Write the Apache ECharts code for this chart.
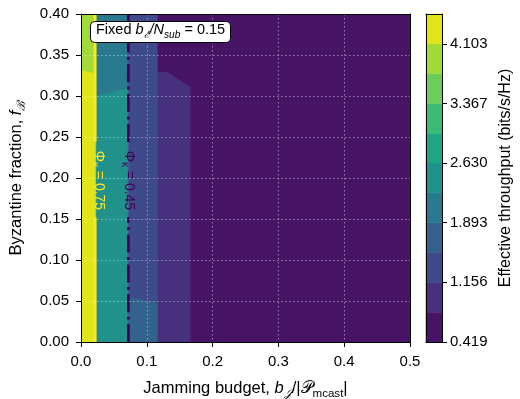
<!DOCTYPE html>
<html>
<head>
<meta charset="utf-8">
<script src="https://cdn.jsdelivr.net/npm/echarts@6/dist/echarts.min.js"></script>
<style>
    html, body { margin: 0; padding: 0; background: #fff; }
    #main { width: 520px; height: 399px; }
</style>
</head>
<body>
<div id="main"></div>
<script>
// filled contour levels of the throughput map (11 bands)
const bandLevels = [0.419, 0.787, 1.156, 1.524, 1.893, 2.261, 2.630, 2.998, 3.367, 3.735, 4.103, 4.471]
const bandTicks = [0.419, 1.156, 1.893, 2.630, 3.367, 4.103]

// throughput regions: value + outline in (jamming budget, byzantine fraction)
const regionValues = [4.30, 3.90, 2.45, 2.10, 1.35, 1.70, 0.95, 0.60, 0.60]
const regionShapes = [
    [[0, 0], [0.023, 0], [0.023, 0.4], [0, 0.4]],
    [[0, 0.332], [0.022, 0.328], [0.022, 0.4], [0, 0.4]],
    [[0.023, 0], [0.072, 0], [0.072, 0.4], [0.023, 0.4]],
    [[0.023, 0.300], [0.072, 0.310], [0.072, 0.4], [0.023, 0.4]],
    [[0.072, 0], [0.117, 0], [0.117, 0.4], [0.072, 0.4]],
    [[0.072, 0], [0.072, 0.055], [0.117, 0.047], [0.117, 0]],
    [[0.117, 0], [0.166, 0], [0.166, 0.4], [0.117, 0.4]],
    [[0.117, 0.330], [0.130, 0.330], [0.166, 0.312], [0.166, 0.4], [0.117, 0.4]],
    [[0.166, 0], [0.5, 0], [0.5, 0.4], [0.166, 0.4]]
]

// Phi_kappa contour lines (vertical), with the y-range left open for the inline label
const phiLabels = ['0.75', '0.45']
const phiX = [0.0215, 0.072]
const phiLabelX = [0.0275, 0.073]
const phiLabelY = [0.197, 0.197]
const phiGap = [0.152, 0.244]

const viridis = ['#471365', '#47307e', '#3e4a89', '#33638d', '#297a8e', '#21918c',
    '#21a685', '#3bbb75', '#6ccd5a', '#a2da37', '#e1e418']
const phiColors = ['#fde725', '#440154']
const phiDash = ['solid', [18, 4.5, 2.8, 4.5]]

const font = '"Liberation Sans", Arial, Helvetica, sans-serif'
const black = '#000'

function rich(size, color) {
    let base = { color: color, fontFamily: font, fontWeight: 'normal' }
    return {
        n: Object.assign({ fontSize: size, lineHeight: size + 6 }, base),
        i: Object.assign({ fontSize: size, lineHeight: size + 6, fontStyle: 'italic' }, base),
        s: Object.assign({ fontSize: size * 0.7, lineHeight: size * 0.7, fontStyle: 'italic', verticalAlign: 'bottom' }, base),
        r: Object.assign({ fontSize: size * 0.7, lineHeight: size * 0.7, verticalAlign: 'bottom' }, base),
        c: Object.assign({ fontSize: size, lineHeight: size + 6 }, base)
    }
}

const chart = echarts.init(document.getElementById('main'), null, { renderer: 'canvas' })

let series = []

series.push({
    type: 'custom',
    xAxisIndex: 0,
    yAxisIndex: 0,
    z: 1,
    clip: true,
    data: regionValues.map((v, i) => [v, i]),
    renderItem(params, api) {
        let pts = regionShapes[api.value(1)].map(p => api.coord(p))
        let c = api.visual('color')
        return {
            type: 'polygon',
            shape: { points: pts },
            style: { fill: c, stroke: c, lineWidth: 0.6 }
        }
    }
})

// colorbar bands
series.push({
    type: 'custom',
    xAxisIndex: 2,
    yAxisIndex: 2,
    z: 1,
    data: bandLevels.slice(0, -1).map((lo, i) => [(lo + bandLevels[i + 1]) / 2, lo, bandLevels[i + 1]]),
    renderItem(params, api) {
        let p0 = api.coord([0, api.value(1)])
        let p1 = api.coord([1, api.value(2)])
        let c = api.visual('color')
        return {
            type: 'rect',
            shape: { x: p0[0], y: p1[1], width: p1[0] - p0[0], height: p0[1] - p1[1] },
            style: { fill: c, stroke: c, lineWidth: 0.5 }
        }
    }
})

phiX.forEach((x, i) => {
    series.push({
        type: 'line',
        xAxisIndex: 0,
        yAxisIndex: 0,
        z: 3,
        symbol: 'none',
        silent: true,
        connectNulls: false,
        lineStyle: { color: phiColors[i], width: 2.8, type: phiDash[i], cap: 'butt' },
        data: [[x, 0], [x, phiGap[0]], [x, '-'], [x, phiGap[1]], [x, 0.4]]
    })
})

series.push({
    type: 'custom',
    xAxisIndex: 0,
    yAxisIndex: 0,
    z: 4,
    data: phiLabels.map((t, i) => [phiLabelX[i], phiLabelY[i], i]),
    renderItem(params, api) {
        let i = api.value(2)
        let p = api.coord([api.value(0), api.value(1)])
        let c = phiColors[i]
        return {
            type: 'text',
            x: p[0],
            y: p[1],
            rotation: -Math.PI / 2,
            style: {
                text: '{n|Φ}{r|κ}{n| = ' + phiLabels[i] + '}',
                rich: {
                    n: { fontSize: 14, fill: c, fontFamily: font, lineHeight: 18 },
                    r: { fontSize: 10, fill: c, fontFamily: font, lineHeight: 10, verticalAlign: 'bottom' }
                },
                fill: c,
                align: 'center',
                verticalAlign: 'middle'
            }
        }
    }
})

const frameAxis = {
    type: 'value',
    z: 5,
    axisLine: { show: true, onZero: false, lineStyle: { color: black, width: 1 } },
    axisTick: { show: false },
    axisLabel: { show: false },
    splitLine: { show: false }
}
const gridLine = {
    show: true,
    showMinLine: false,
    showMaxLine: false,
    lineStyle: { color: 'rgba(255,255,255,0.45)', width: 1, type: [1.5, 2.5] }
}

const option = {
    animation: false,
    textStyle: { fontFamily: font },
    title: {
        text: '{n|Fixed }{i|b}{s|ℰ}{i|/N}{s|sub}{n| = 0.15}',
        left: 90,
        top: 18,
        padding: [2, 6, 2, 6],
        backgroundColor: '#fff',
        borderColor: black,
        borderWidth: 1,
        borderRadius: 4,
        textStyle: { fontWeight: 'normal', rich: rich(14.5, black) },
        z: 10
    },
    grid: [
        { left: 81, top: 14, width: 329, height: 328, outerBoundsMode: 'none', containLabel: false },
        { left: 426, top: 14, width: 16, height: 328, outerBoundsMode: 'none', containLabel: false }
    ],
    visualMap: {
        type: 'piecewise',
        show: false,
        dimension: 0,
        seriesIndex: [0, 1],
        pieces: viridis.map((c, i) => ({ gte: bandLevels[i], lt: bandLevels[i + 1], color: c }))
    },
    xAxis: [
        {
            gridIndex: 0,
            type: 'value',
            min: 0,
            max: 0.5,
            interval: 0.1,
            position: 'bottom',
            z: 5,
            axisLine: { onZero: false, lineStyle: { color: black, width: 1 } },
            axisTick: { length: 5, lineStyle: { color: black } },
            axisLabel: { fontSize: 15, color: black, margin: 12, formatter: v => v.toFixed(1) },
            splitLine: gridLine,
            name: '{n|Jamming budget, }{i|b}{s|𝒥}{n|/|}{c|𝒫}{r|mcast}{n||}',
            nameLocation: 'middle',
            nameGap: 35,
            nameTextStyle: { rich: rich(16.5, black) }
        },
        Object.assign({ gridIndex: 0, min: 0, max: 0.5, position: 'top' }, frameAxis),
        Object.assign({ gridIndex: 1, min: 0, max: 1, position: 'bottom' }, frameAxis),
        Object.assign({ gridIndex: 1, min: 0, max: 1, position: 'top' }, frameAxis)
    ],
    yAxis: [
        {
            gridIndex: 0,
            type: 'value',
            min: 0,
            max: 0.4,
            interval: 0.05,
            position: 'left',
            z: 5,
            axisLine: { onZero: false, lineStyle: { color: black, width: 1 } },
            axisTick: { length: 5, lineStyle: { color: black } },
            axisLabel: { fontSize: 15, color: black, margin: 12, formatter: v => v.toFixed(2) },
            splitLine: gridLine,
            name: '{n|Byzantine fraction, }{i|f}{s|ℬ}',
            nameLocation: 'middle',
            nameGap: 53,
            nameRotate: 90,
            nameTextStyle: { rich: rich(16.5, black) }
        },
        Object.assign({ gridIndex: 0, min: 0, max: 0.4, position: 'right' }, frameAxis),
        {
            gridIndex: 1,
            type: 'value',
            min: bandLevels[0],
            max: bandLevels[bandLevels.length - 1],
            position: 'right',
            z: 5,
            axisLine: { onZero: false, lineStyle: { color: black, width: 1 } },
            axisTick: { length: 5, lineStyle: { color: black }, customValues: bandTicks },
            axisLabel: { fontSize: 15, color: black, margin: 8, customValues: bandTicks, formatter: v => v.toFixed(3) },
            splitLine: { show: false },
            name: 'Effective throughput (bits/s/Hz)',
            nameLocation: 'middle',
            nameGap: 56,
            nameRotate: 90,
            nameTextStyle: { fontSize: 16, color: black }
        },
        Object.assign({ gridIndex: 1, min: bandLevels[0], max: bandLevels[bandLevels.length - 1], position: 'left' }, frameAxis)
    ],
    series: series
}

chart.setOption(option)
</script>
</body>
</html>
